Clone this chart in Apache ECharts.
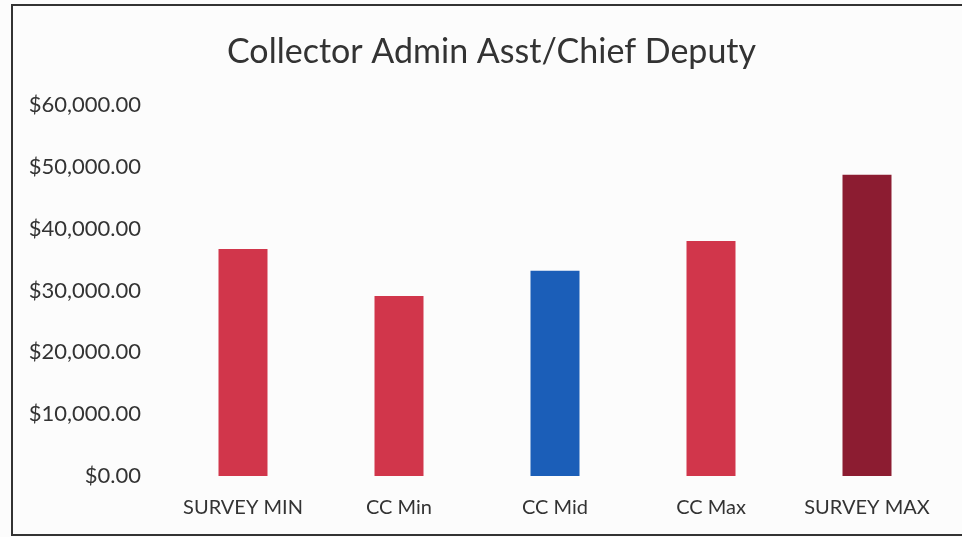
<!DOCTYPE html>
<html lang="en">
<head>
    <meta charset="UTF-8">
    <title>Collector Admin Asst/Chief Deputy</title>
    <style>
    html, body { margin: 0; padding: 0; background: #fcfcfc; }
    #echart { width: 962px; height: 537px; }
    </style>
</head>
<body>
    <div id="echart"></div>
    <script src="https://cdn.jsdelivr.net/npm/echarts@6/dist/echarts.min.js"></script>
    <script>
        var categories = ['SURVEY MIN', 'CC Min', 'CC Mid', 'CC Max', 'SURVEY MAX'];
        var salaries = [36700, 29100, 33200, 38000, 48700];
        var barColors = ['#d1364b', '#d1364b', '#1b5eb8', '#d1364b', '#8c1c31'];
        var yTicks = [0, 10000, 20000, 30000, 40000, 50000, 60000];

        var myChart = echarts.init(document.getElementById('echart'));
        var font = 'Lato, "Open Sans", sans-serif';

        function money(v) {
            return '$' + v.toLocaleString('en-US', { minimumFractionDigits: 2, maximumFractionDigits: 2 });
        }

        option = {
            backgroundColor: '#fcfcfc',
            title: {
                text: 'Collector Admin Asst/Chief Deputy',
                left: 222,
                top: 30,
                textStyle: { fontFamily: font, fontSize: 34, fontWeight: 'normal', color: '#333' }
            },
            graphic: [
                // chart frame
                { type: 'rect', shape: { x: 12, y: 5, width: 960, height: 530 },
                  style: { fill: 'none', stroke: '#333', lineWidth: 2 } }
            ],
            grid: { left: 165, right: 17, top: 105, bottom: 61 },
            xAxis: {
                type: 'category',
                data: categories,
                axisLine: { show: false },
                axisTick: { show: false },
                axisLabel: { interval: 0, fontFamily: font, fontSize: 20, color: '#333', margin: 22 }
            },
            yAxis: {
                type: 'value',
                min: yTicks[0],
                max: yTicks[yTicks.length - 1],
                interval: 10000,
                splitLine: { show: false },
                axisLine: { show: false },
                axisTick: { show: false },
                axisLabel: { fontFamily: font, fontSize: 22, color: '#333', margin: 24, formatter: money }
            },
            series: [{
                type: 'bar',
                barWidth: 49,
                data: salaries.map(function (v, i) {
                    return { value: v, itemStyle: { color: barColors[i] } };
                })
            }]
        };
        myChart.setOption(option);
    </script>
</body>
</html>
